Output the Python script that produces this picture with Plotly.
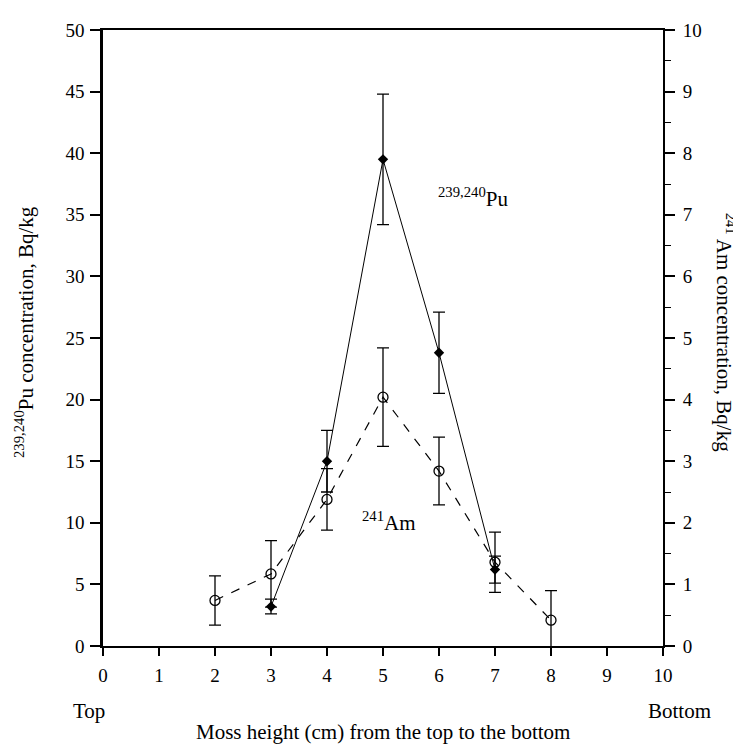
import plotly.graph_objects as go

# Data
pu_x = [3, 4, 5, 6, 7]
pu_y = [3.2, 15.0, 39.5, 23.8, 6.2]
pu_err = [0.6, 2.5, 5.3, 3.3, 1.1]

am_x = [2, 3, 4, 5, 6, 7, 8]
am_y = [0.74, 1.17, 2.38, 4.04, 2.84, 1.36, 0.42]
am_err = [0.40, 0.54, 0.50, 0.80, 0.55, 0.49, 0.48]

x_ticks = list(range(0, 11))
left_ticks = list(range(0, 51, 5))
right_ticks = list(range(0, 11))

FONT = "Liberation Serif"

fig = go.Figure()

fig.add_trace(go.Scatter(
    x=am_x, y=am_y, yaxis="y2", mode="lines+markers",
    line=dict(color="black", width=1.2, dash="dash"),
    marker=dict(symbol="circle-open", size=10, color="black", line=dict(width=1.3)),
    error_y=dict(type="data", array=am_err, color="black", thickness=1.3, width=6),
    showlegend=False,
))

fig.add_trace(go.Scatter(
    x=pu_x, y=pu_y, mode="lines+markers",
    line=dict(color="black", width=1),
    marker=dict(symbol="diamond", size=8, color="black"),
    error_y=dict(type="data", array=pu_err, color="black", thickness=1.3, width=6),
    showlegend=False,
))

fig.update_layout(
    width=733, height=739,
    margin=dict(l=95, r=78, t=12, b=101),
    plot_bgcolor="white", paper_bgcolor="white",
    font=dict(family=FONT, size=19, color="black"),
    xaxis=dict(
        range=[0, 10], tickvals=x_ticks, ticktext=[str(v) for v in x_ticks],
        showgrid=False, zeroline=False,
        showline=True, linecolor="black", linewidth=2, mirror=True,
        ticks="outside", ticklen=8, tickwidth=1.5, tickcolor="black",
        ticklabelstandoff=3,
    ),
    yaxis=dict(
        range=[0, 50], tickvals=left_ticks, ticktext=[str(v) for v in left_ticks],
        showgrid=False, zeroline=False,
        showline=True, linecolor="black", linewidth=2.5,
        ticks="outside", ticklen=10, tickwidth=1.5, tickcolor="black",
        ticklabelstandoff=2,
    ),
    yaxis2=dict(
        range=[0, 10], tickvals=right_ticks, ticktext=[str(v) for v in right_ticks],
        overlaying="y", side="right",
        showgrid=False, zeroline=False,
        showline=True, linecolor="black", linewidth=2,
        ticks="outside", ticklen=10, tickwidth=1.5, tickcolor="black",
        minor=dict(dtick=0.5, ticks="outside", ticklen=6, tickwidth=1, tickcolor="black"),
        ticklabelstandoff=4,
    ),
    annotations=[
        dict(text="<sup>239,240</sup>Pu", x=6.6, y=36.4, xref="x", yref="y",
             showarrow=False, font=dict(size=21)),
        dict(text="<sup>241</sup>Am", x=5.1, y=10.1, xref="x", yref="y",
             showarrow=False, font=dict(size=21)),
        dict(text="<sup>239,240</sup>Pu concentration, Bq/kg", xref="paper", yref="paper",
             x=-0.139, y=0.51, xanchor="center", yanchor="middle", textangle=-90,
             showarrow=False, font=dict(size=21)),
        dict(text="<sup>241</sup> Am concentration, Bq/kg", xref="paper", yref="paper",
             x=1.111, y=0.51, xanchor="center", yanchor="middle", textangle=90,
             showarrow=False, font=dict(size=21)),
        dict(text="Top", xref="paper", yref="paper", x=-0.025, y=-0.105,
             xanchor="center", yanchor="middle", showarrow=False, font=dict(size=21)),
        dict(text="Bottom", xref="paper", yref="paper", x=1.03, y=-0.105,
             xanchor="center", yanchor="middle", showarrow=False, font=dict(size=21)),
        dict(text="Moss height (cm) from the top to the bottom", xref="paper", yref="paper",
             x=0.5, y=-0.139, xanchor="center", yanchor="middle", showarrow=False,
             font=dict(size=21)),
    ],
)

fig.write_html("out.html")
